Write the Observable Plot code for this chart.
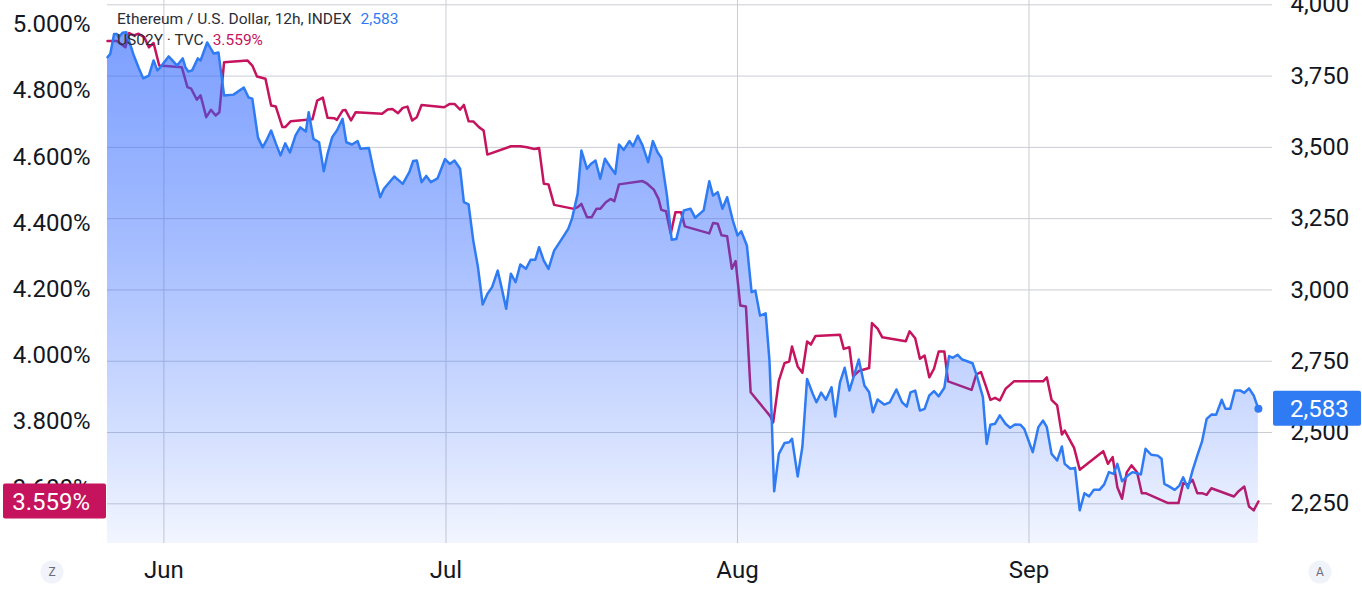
<!DOCTYPE html>
<html><head><meta charset="utf-8">
<script src="https://cdn.jsdelivr.net/npm/d3@7"></script>
<script src="https://cdn.jsdelivr.net/npm/@observablehq/plot@0.6"></script>
<style>
html,body{margin:0;padding:0;background:#fff;}
#chart{width:1362px;height:595px;overflow:hidden;}
</style></head><body><div id="chart"></div>
<script>
// Time origin: days are counted from this instant (12h bars)
const startDate = "2024-05-26T00:00:00Z";

// Ethereum / U.S. Dollar, 12h (right axis)
const ethDay = [0,0.3,0.7,1.0,1.2,1.6,2.0,2.8,3.3,3.8,
4.4,4.9,5.3,5.6,6.5,6.9,7.4,8.0,8.3,8.6,
9.0,9.6,9.9,10.6,11.3,11.8,12.4,13.4,14.5,15.0,
15.4,16.0,16.5,17.0,17.4,17.9,18.4,18.9,19.4,20.0,
20.5,21.1,21.4,21.9,22.5,23.0,23.4,23.9,24.4,25.0,
25.4,26.0,26.6,26.9,27.8,28.3,29.0,29.4,30.5,31.4,
32.1,32.5,32.9,33.4,33.9,34.4,35.1,35.9,36.4,36.9,
37.5,37.9,38.4,38.9,39.4,39.9,40.4,40.9,41.5,41.9,
42.4,42.9,43.4,43.9,44.5,45.0,45.5,45.9,46.4,46.9,
47.5,48.2,49.0,49.4,50.0,50.4,51.0,51.4,51.9,52.4,
52.9,53.5,54.0,54.4,54.9,55.5,55.9,56.4,56.9,57.5,
58.0,58.5,58.9,59.5,60.0,60.5,60.9,61.3,62.0,62.5,
63.4,64.0,64.4,64.9,65.4,65.9,66.5,67.0,67.4,68.0,
68.5,68.9,69.4,70.0,70.4,70.6,70.9,71.4,72.0,72.5,
72.8,73.4,73.9,74.4,75.0,75.4,75.9,76.4,77.0,77.4,
77.9,78.4,78.9,79.4,79.9,80.5,81.0,81.4,81.9,82.6,
83.2,83.9,84.5,85.0,85.4,85.9,86.4,86.9,87.4,87.9,
88.4,89.0,89.5,89.9,90.4,90.9,91.5,92.0,92.5,93.1,
93.5,93.9,94.4,94.9,95.5,96.0,96.5,97.1,97.5,98.4,
99.0,99.5,99.9,100.4,101.0,101.5,101.8,102.4,102.9,103.4,
103.9,104.4,104.9,105.5,106.0,106.5,107.0,107.4,107.9,108.5,
109.0,109.5,109.9,110.4,111.0,111.7,112.1,112.4,112.9,113.5,
114.0,114.4,114.9,115.4,115.9,116.4,116.9,117.4,117.9,118.5,
118.9,119.4,119.9,120.5,120.9,121.4,121.9,122.4];
const ethPrice = [3816,3828,3898,3898,3886,3902,3904,3822,3780,3742,
3752,3805,3770,3780,3819,3805,3787,3812,3780,3766,
3770,3812,3805,3868,3829,3833,3682,3685,3710,3675,
3671,3535,3500,3531,3559,3514,3472,3514,3482,3542,
3570,3556,3623,3530,3518,3416,3477,3536,3559,3600,
3518,3510,3522,3495,3498,3419,3325,3355,3398,3372,
3413,3452,3454,3378,3400,3378,3391,3459,3442,3454,
3425,3308,3300,3173,3080,2949,2986,3010,3068,3010,
2934,3057,3027,3089,3074,3106,3106,3150,3103,3074,
3138,3173,3214,3250,3337,3489,3425,3442,3454,3390,
3460,3430,3407,3510,3491,3522,3504,3541,3507,3448,
3522,3483,3463,3331,3176,3179,3232,3279,3285,3253,
3279,3381,3331,3343,3285,3325,3244,3191,3206,3156,
2992,2998,2910,2918,2753,2589,2294,2425,2463,2466,
2478,2346,2449,2688,2636,2606,2640,2615,2659,2556,
2676,2727,2647,2700,2756,2665,2641,2571,2616,2598,
2606,2651,2606,2591,2641,2647,2577,2583,2630,2645,
2627,2657,2768,2762,2773,2756,2749,2743,2694,2624,
2460,2527,2531,2560,2531,2517,2528,2527,2513,2431,
2519,2542,2519,2425,2402,2451,2390,2373,2376,2227,
2287,2276,2299,2299,2318,2361,2355,2390,2329,2349,
2361,2357,2353,2443,2422,2419,2408,2320,2311,2299,
2314,2343,2305,2367,2419,2468,2548,2563,2562,2615,
2583,2583,2647,2647,2639,2655,2630,2583];

// US02Y · TVC, percent (left axis)
const yieldDay = [0,1.0,1.9,2.3,2.8,3.3,3.9,4.4,4.9,5.5,
7.9,8.5,8.9,9.5,9.9,10.5,11.0,11.5,11.9,12.4,
14.9,15.4,15.9,16.8,17.4,17.9,18.6,18.9,19.5,21.8,
22.3,22.9,23.4,24.1,24.4,25.0,25.3,25.9,26.4,29.2,
29.8,30.3,30.9,31.4,31.9,32.4,32.9,33.4,35.8,36.4,
36.9,37.5,37.9,38.4,38.9,39.5,40.0,40.4,42.9,43.9,
44.6,45.4,45.9,46.4,46.9,47.5,49.6,50.0,50.4,51.0,
51.5,52.0,52.4,53.0,53.5,53.9,54.4,56.9,57.4,58.1,
58.6,58.9,59.4,59.9,60.4,61.0,61.4,64.0,64.4,64.9,
65.3,65.9,66.4,66.8,67.3,67.9,68.4,70.5,70.8,71.4,
72.0,72.5,72.8,73.4,73.9,74.4,74.8,75.3,77.9,78.3,
78.9,79.3,79.9,81.0,81.3,81.9,82.4,84.9,85.3,85.9,
86.4,86.9,87.4,87.9,88.4,89.0,89.4,91.9,92.4,92.9,
93.4,93.9,94.4,94.9,95.5,96.4,99.5,99.9,100.4,101.0,
101.5,101.8,102.8,103.4,105.9,106.4,106.9,107.4,107.9,108.4,
108.9,109.5,110.0,110.4,112.8,113.9,114.4,114.9,115.4,115.9,
116.4,116.9,117.4,119.8,120.3,120.9,121.4,121.9,122.4];
const yieldPct = [4.950,4.950,4.931,4.974,4.967,4.972,4.962,4.931,4.944,4.876,
4.871,4.811,4.806,4.773,4.786,4.720,4.742,4.725,4.735,4.886,
4.891,4.876,4.843,4.836,4.755,4.752,4.690,4.690,4.708,4.714,
4.770,4.779,4.718,4.717,4.712,4.740,4.742,4.710,4.735,4.730,
4.743,4.745,4.732,4.748,4.752,4.710,4.720,4.757,4.750,4.760,
4.760,4.743,4.757,4.708,4.707,4.690,4.680,4.607,4.632,4.632,
4.629,4.624,4.627,4.519,4.517,4.455,4.443,4.448,4.458,4.418,
4.418,4.443,4.443,4.463,4.473,4.466,4.517,4.527,4.519,4.501,
4.473,4.440,4.436,4.368,4.433,4.433,4.390,4.369,4.400,4.398,
4.363,4.360,4.262,4.285,4.151,4.148,3.889,3.816,3.798,3.924,
3.977,3.982,4.027,3.967,3.948,4.042,4.033,4.059,4.063,4.020,
4.025,3.937,3.953,3.962,4.098,4.081,4.055,4.043,4.073,4.052,
3.990,4.000,3.934,3.960,4.012,4.012,3.922,3.896,3.943,3.950,
3.909,3.866,3.872,3.864,3.899,3.922,3.922,3.934,3.866,3.849,
3.761,3.773,3.721,3.655,3.711,3.673,3.693,3.602,3.567,3.647,
3.668,3.647,3.584,3.584,3.554,3.554,3.614,3.610,3.624,3.584,
3.584,3.579,3.599,3.574,3.590,3.604,3.544,3.532,3.559];

// Axis ticks
const ethTicks = [2250, 2500, 2750, 3000, 3250, 3500, 3750, 4000];
const yieldTicks = [3.6, 3.8, 4.0, 4.2, 4.4, 4.6, 4.8, 5.0];
const monthTicks = ["2024-06-01", "2024-07-01", "2024-08-01", "2024-09-01"];

// Scale settings
const ethDomain = [2110.8, 4015.1];
const yieldDomain = [3.432, 5.0725];
const xEndDay = 123.9;

const BLUE = "#2f7bf3";
const RED = "#c5135d";
const GRID = "#cbcdd3";
const FONT = "Roboto, 'Noto Sans', sans-serif";

const t0 = new Date(startDate).getTime();
const toDate = d => new Date(t0 + d * 86400000);
const toEth = p => ethDomain[0] + (p - yieldDomain[0]) * (ethDomain[1] - ethDomain[0]) / (yieldDomain[1] - yieldDomain[0]);
const fromEth = v => yieldDomain[0] + (v - ethDomain[0]) * (yieldDomain[1] - yieldDomain[0]) / (ethDomain[1] - ethDomain[0]);

const eth = ethDay.map((d, i) => ({date: toDate(d), v: ethPrice[i]}));
const yld = yieldDay.map((d, i) => ({date: toDate(d), v: toEth(yieldPct[i])}));
const months = monthTicks.map(s => new Date(s + "T00:00:00Z"));

const plot = Plot.plot({
  width: 1362, height: 595,
  marginTop: 0, marginBottom: 52, marginLeft: 107, marginRight: 90,
  style: {fontFamily: FONT, fontSize: "24px", color: "#131722", background: "#ffffff", overflow: "visible"},
  x: {type: "utc", domain: [toDate(0), toDate(xEndDay)]},
  y: {domain: ethDomain},
  marks: [
    Plot.gridX(months, {stroke: GRID, strokeOpacity: 1}),
    Plot.ruleY(ethTicks, {stroke: GRID, strokeOpacity: 1}),
    Plot.line(yld, {x: "date", y: "v", stroke: RED, strokeWidth: 2.5, strokeLinejoin: "round"}),
    Plot.areaY(eth, {x: "date", y: "v", fill: "url(#ethFill)", clip: true}),
    Plot.line(eth, {x: "date", y: "v", stroke: BLUE, strokeWidth: 2.5, strokeLinejoin: "round"}),
    Plot.dot([eth[eth.length - 1]], {x: "date", y: "v", r: 4, fill: BLUE}),
    Plot.axisY(ethTicks, {anchor: "right", tickSize: 0, tickPadding: 18, tickFormat: d3.format(","), label: null}),
    Plot.axisY(yieldTicks.map(toEth), {anchor: "left", tickSize: 0, tickPadding: 17, tickFormat: v => fromEth(v).toFixed(3) + "%", label: null}),
    Plot.axisX(months, {tickSize: 0, tickPadding: 17, tickFormat: d3.utcFormat("%b"), label: null})
  ]
});

document.getElementById("chart").appendChild(plot);

const svg = d3.select(plot);
const frameTop = 0, frameBottom = 595 - 52;

// gradient for the ETH area
const grad = svg.insert("defs", ":first-child").append("linearGradient")
  .attr("id", "ethFill").attr("gradientUnits", "userSpaceOnUse")
  .attr("x1", 0).attr("x2", 0).attr("y1", frameTop).attr("y2", frameBottom);
[[0, 0.64], [0.45, 0.42], [0.8, 0.2], [1, 0.06]].forEach(([o, a]) =>
  grad.append("stop").attr("offset", o).attr("stop-color", "#2962ff").attr("stop-opacity", a));

// legend
const legend = svg.append("g").attr("font-family", FONT).attr("font-size", 15.5).attr("text-anchor", "start");
const l1 = legend.append("text").attr("x", 117).attr("y", 24).attr("text-anchor", "start").attr("fill", "#2a2e39").text("Ethereum / U.S. Dollar, 12h, INDEX");
l1.append("tspan").attr("dx", 9).attr("fill", BLUE).text(d3.format(",")(ethPrice[ethPrice.length - 1]));
const l2 = legend.append("text").attr("x", 117).attr("y", 45).attr("text-anchor", "start").attr("fill", "#2a2e39").text("US02Y · TVC");
l2.append("tspan").attr("dx", 9).attr("fill", RED).text(yieldPct[yieldPct.length - 1].toFixed(3) + "%");

// last value labels
const ys = plot.scale("y");
const yb = ys.apply(ethPrice[ethPrice.length - 1]);
const yr = ys.apply(toEth(yieldPct[yieldPct.length - 1]));
const tags = svg.append("g").attr("font-family", FONT).attr("font-size", 24);
tags.append("rect").attr("x", 1273).attr("y", yb - 17.5).attr("width", 88).attr("height", 35).attr("rx", 2).attr("fill", BLUE);
tags.append("text").attr("x", 1290).attr("y", yb).attr("dy", "0.36em").attr("text-anchor", "start").attr("fill", "#fff").text(d3.format(",")(ethPrice[ethPrice.length - 1]));
tags.append("rect").attr("x", 3).attr("y", yr - 17.5).attr("width", 103).attr("height", 35).attr("rx", 2).attr("fill", RED);
tags.append("text").attr("x", 90).attr("y", yr).attr("dy", "0.36em").attr("text-anchor", "end").attr("fill", "#fff").text(yieldPct[yieldPct.length - 1].toFixed(3) + "%");

// scale-mode buttons
[[52, "Z"], [1320, "A"]].forEach(([cx, t]) => {
  const g = svg.append("g");
  g.append("circle").attr("cx", cx).attr("cy", 572).attr("r", 11.5).attr("fill", "#f0f3fa");
  g.append("text").attr("x", cx).attr("y", 572).attr("dy", "0.36em").attr("text-anchor", "middle")
    .attr("font-family", FONT).attr("font-size", 12).attr("fill", "#6a6d78").text(t);
});
</script>
</body></html>
